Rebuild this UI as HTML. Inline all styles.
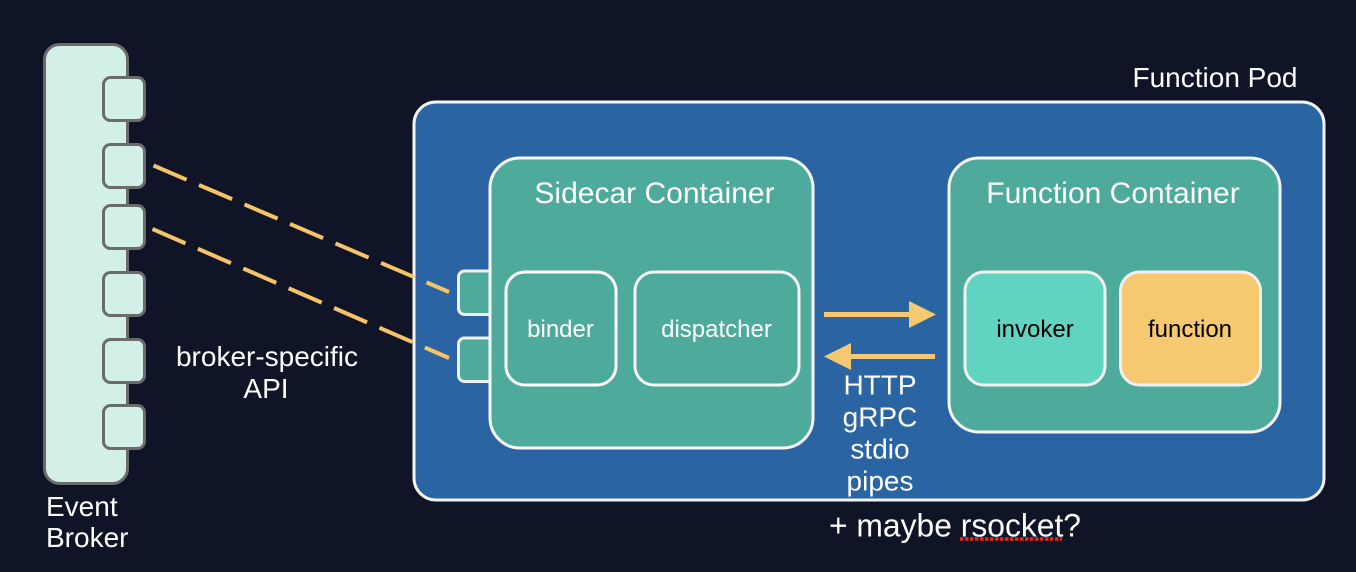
<!DOCTYPE html>
<html lang="en">
<head>
<meta charset="utf-8">
<title>Function Pod diagram</title>
<style>
html,body{margin:0;padding:0;background:#101427;}
svg{display:block;}
text{font-family:"Liberation Sans",Arial,sans-serif;}
</style>
</head>
<body>
<svg width="1356" height="572" viewBox="0 0 1356 572" xmlns="http://www.w3.org/2000/svg">
<rect width="1356" height="572" fill="#101427"/>

<!-- Event broker -->
<rect x="44.5" y="44.5" width="83" height="439" rx="15" fill="#d2efe8" stroke="#6b6b6b" stroke-width="3"/>
<g fill="#d2efe8" stroke="#6b6b6b" stroke-width="3">
<rect x="103.5" y="77.5" width="41" height="43" rx="7"/>
<rect x="103.5" y="144.5" width="41" height="43" rx="7"/>
<rect x="103.5" y="205.5" width="41" height="43" rx="7"/>
<rect x="103.5" y="272.5" width="41" height="43" rx="7"/>
<rect x="103.5" y="339.5" width="41" height="43" rx="7"/>
<rect x="103.5" y="405.5" width="41" height="43" rx="7"/>
</g>

<!-- Pod -->
<rect x="414" y="102" width="910" height="398" rx="22" fill="#2a64a3" stroke="#f4f4f4" stroke-width="3"/>

<!-- Sidecar ports -->
<g fill="#4eab9c" stroke="#f0f0f0" stroke-width="3">
<rect x="458.5" y="271" width="50" height="43.5" rx="6"/>
<rect x="458.5" y="338" width="50" height="43.5" rx="6"/>
</g>

<!-- Sidecar container -->
<rect x="490" y="158" width="323" height="290" rx="30" fill="#4eab9c" stroke="#f8f8f8" stroke-width="3"/>
<rect x="506" y="272" width="110" height="113" rx="19" fill="#4eab9c" stroke="#fff" stroke-width="3"/>
<rect x="635" y="272" width="164" height="113" rx="19" fill="#4eab9c" stroke="#f4f4f4" stroke-width="3"/>

<!-- Function container -->
<rect x="949" y="158" width="331" height="274" rx="30" fill="#4eab9c" stroke="#f4f4f4" stroke-width="3"/>
<rect x="965" y="272" width="140" height="113" rx="19" fill="#60d3c1" stroke="#f0f0f0" stroke-width="3"/>
<rect x="1120.500" y="272" width="140" height="113" rx="19" fill="#f6c870" stroke="#f0f0f0" stroke-width="3"/>

<!-- Dashed lines -->
<g stroke="#f6c468" stroke-width="4" fill="none" stroke-dasharray="36 13.5">
<line x1="153.500" y1="165.500" x2="449" y2="292"/>
<line x1="152.500" y1="229" x2="449" y2="358"/>
</g>

<!-- Arrows -->
<g fill="#f6c870">
<rect x="824" y="312" width="85" height="5"/>
<polygon points="909,301 936,314.500 909,328"/>
<rect x="851" y="354" width="84" height="5"/>
<polygon points="851,343 824,356.500 851,370"/>
</g>

<!-- Labels -->
<g fill="#ffffff" font-size="28" text-anchor="middle">
<text x="1215" y="87">Function Pod</text>
<text x="267" y="366">broker-specific</text>
<text x="266" y="398">API</text>
<text x="880" y="394.500">HTTP</text>
<text x="880" y="426.500">gRPC</text>
<text x="880" y="458.500">stdio</text>
<text x="880" y="490.500">pipes</text>
</g>
<g fill="#ffffff" font-size="30" text-anchor="middle">
<text x="654.500" y="203">Sidecar Container</text>
<text x="1113" y="203">Function Container</text>
</g>
<text x="955" y="536.500" fill="#ffffff" font-size="32" text-anchor="middle" textLength="252" lengthAdjust="spacingAndGlyphs">+ maybe rsocket?</text>
<g fill="#ffffff" font-size="28">
<text x="46" y="516">Event</text>
<text x="46" y="547">Broker</text>
</g>
<g font-size="24" text-anchor="middle">
<text x="560.500" y="337" fill="#ffffff">binder</text>
<text x="716.500" y="337" fill="#ffffff">dispatcher</text>
<text x="1035" y="337" fill="#000000">invoker</text>
<text x="1190" y="337" fill="#000000">function</text>
</g>

<!-- Spellcheck underline -->
<line x1="960" y1="539" x2="1062" y2="539" stroke="#e6281c" stroke-width="3.500" stroke-dasharray="3.500 1.500"/>
</svg>
</body>
</html>
